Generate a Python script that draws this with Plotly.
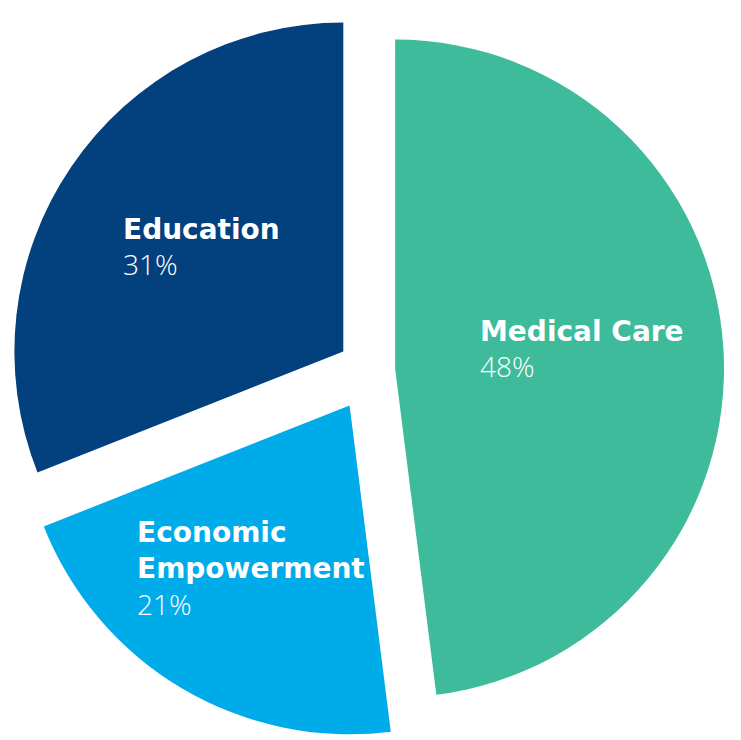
import plotly.graph_objects as go

categories = ["Medical Care", "Economic Empowerment", "Education"]
label_lines = ["Medical Care", "Economic<br>Empowerment", "Education"]
values = [48, 21, 31]
colors = ["#3dbb9b", "#00abea", "#03407e"]
pulls = [0.075, 0.125, 0.1]
# label anchor positions (paper fraction)
label_x = [0.645, 0.182, 0.163]
label_y = [0.527, 0.230, 0.665]

fig = go.Figure(go.Pie(
    labels=categories,
    values=values,
    marker=dict(colors=colors, line=dict(width=0)),
    pull=pulls,
    sort=False,
    direction="clockwise",
    rotation=0,
    textinfo="none",
    hoverinfo="label+percent",
    domain=dict(x=[0, 1], y=[0, 1]),
))

for lab, v, x, y in zip(label_lines, values, label_x, label_y):
    fig.add_annotation(
        x=x, y=y, xref="paper", yref="paper",
        xanchor="left", yanchor="middle", align="left",
        text=(f"<span style=\"font-family:'DejaVu Sans';font-weight:bold\">{lab}</span>"
              f"<br><span style=\"font-family:'Open Sans';font-weight:300\">{v}%</span>"),
        showarrow=False,
        font=dict(family="'Open Sans', sans-serif", size=28, color="white"),
    )

fig.update_layout(
    width=741, height=740,
    margin=dict(l=0, r=0, t=0, b=0),
    paper_bgcolor="white",
    plot_bgcolor="white",
    showlegend=False,
)

fig.write_html("out.html")
